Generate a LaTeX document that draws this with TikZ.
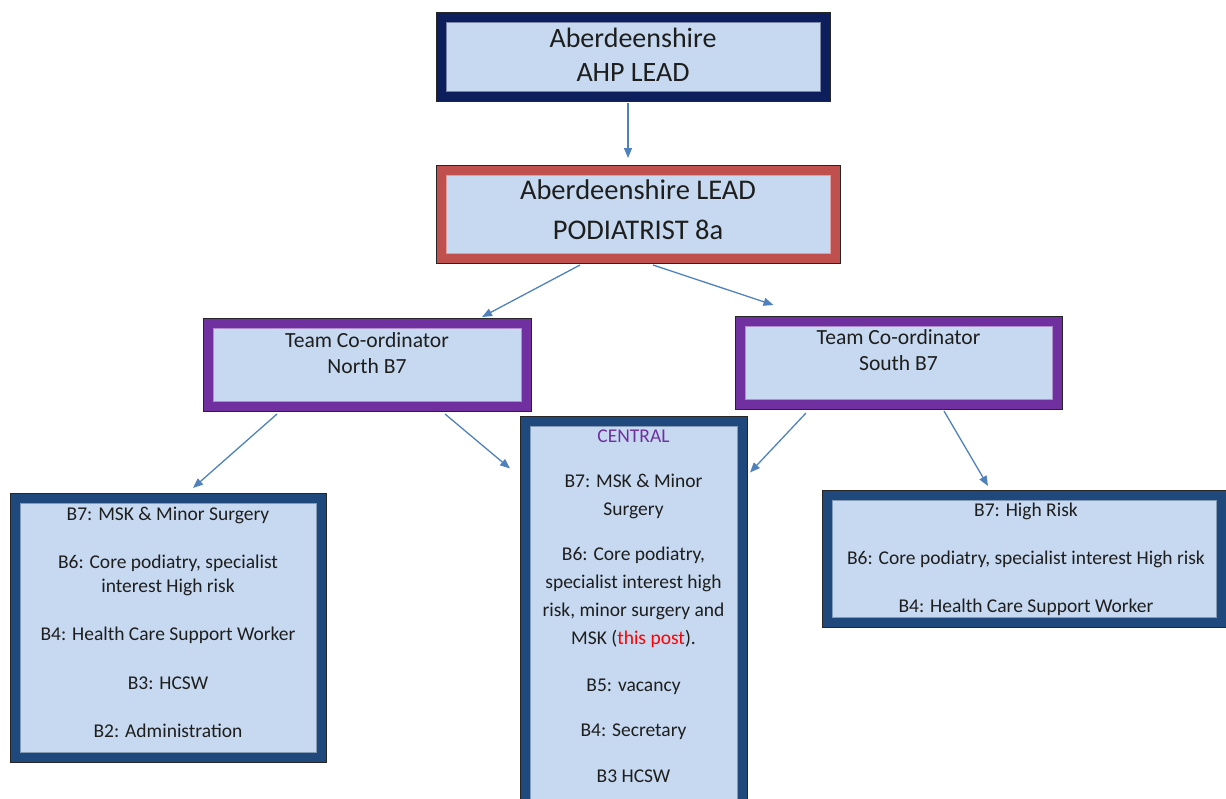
\documentclass[tikz,border=0pt]{standalone}
\usepackage{fontspec}
\setmainfont{Carlito}
\usetikzlibrary{arrows.meta,calc}
\definecolor{navyA}{RGB}{12,30,92}
\definecolor{redB}{RGB}{192,80,77}
\definecolor{purpC}{RGB}{112,48,160}
\definecolor{blueD}{RGB}{31,73,125}
\definecolor{fillE}{RGB}{198,217,240}
\definecolor{arrowF}{RGB}{79,129,189}
\definecolor{txt}{RGB}{30,30,30}
\definecolor{postred}{RGB}{255,0,0}
\tikzset{
  orgbox/.style={rectangle, inner sep=0pt, outer sep=0pt, draw=black!85, line width=0.9pt, fill=#1,
    path picture={\fill[fillE, draw=#1!55!white, line width=0.8pt]
      ([shift={(10pt,-10pt)}]path picture bounding box.north west) rectangle
      ([shift={(-10pt,10pt)}]path picture bounding box.south east);}},
  bigtext/.style={font=\fontsize{28}{34}\selectfont, text=txt, align=center, inner sep=0pt},
  midtext/.style={font=\fontsize{21.6}{26}\selectfont, text=txt, align=center, inner sep=0pt},
  smalltext/.style={font=\fontsize{19.5}{24}\selectfont, text=txt, align=center, inner sep=0pt},
  conn/.style={draw=arrowF, line width=1.3pt, -{Triangle[length=10pt,width=8pt]}}
}
\begin{document}
\begin{tikzpicture}[x=1pt,y=-1pt]
\useasboundingbox (0,0) rectangle (1226,798);

% boxes
\node[orgbox=navyA, minimum width=394pt, minimum height=89pt] (b1) at (633,56.5) {};
\node[orgbox=redB, minimum width=404pt, minimum height=98pt] (b2) at (638,214) {};
\node[orgbox=purpC, minimum width=328pt, minimum height=93pt] (b3) at (367,364.5) {};
\node[orgbox=purpC, minimum width=327pt, minimum height=93pt] (b4) at (898.5,362.5) {};
\node[orgbox=blueD, minimum width=316pt, minimum height=269pt] (b5) at (168,627.5) {};
\node[orgbox=blueD, minimum width=227pt, minimum height=395pt] (b6) at (633.5,613.5) {};
\node[orgbox=blueD, minimum width=404pt, minimum height=137pt] (b7) at (1024,558.5) {};

% texts
\node[bigtext] (t1) at (633,54.5) {Aberdeenshire\\AHP LEAD};
\node[bigtext, font=\fontsize{28.5}{40}\selectfont] (t2) at (638,210) {Aberdeenshire LEAD\\PODIATRIST 8a};
\node[midtext] (t3) at (367,353) {Team Co-ordinator\\North B7};
\node[midtext] (t4) at (898.5,350) {Team Co-ordinator\\South B7};
\node[smalltext] (t5) at (168,622) {B7: MSK \& Minor Surgery\\[24pt]
  B6: Core podiatry, specialist\\interest High risk\\[24pt]
  B4: Health Care Support Worker\\[25pt]
  B3: HCSW\\[24pt]
  B2: Administration};
\node[smalltext, font=\fontsize{19.5}{28}\selectfont] (t6) at (633.5,606) {\textcolor{purpC}{CENTRAL}\\[17pt]
  B7: MSK \& Minor\\Surgery\\[17pt]
  B6: Core podiatry,\\specialist interest high\\risk, minor surgery and\\MSK (\textcolor{postred}{this post}).\\[19pt]
  B5: vacancy\\[17pt]
  B4: Secretary\\[18pt]
  B3 HCSW};
\node[smalltext] (t7) at (1026,559.5) {B7: High Risk\\[24pt]
  B6: Core podiatry, specialist interest High risk\\[24pt]
  B4: Health Care Support Worker};

% free ends
\coordinate (e1) at ($(b2.north)+(-10,-7)$);
\coordinate (e2) at ($(b3.north)+(115,-1)$);
\coordinate (e3) at ($(b4.north)+(-125,-11)$);
\coordinate (e4) at ($(b5.north)+(25,-5)$);
\coordinate (e5) at ($(b6.west)+(-10,-145)$);
\coordinate (e6) at ($(b6.east)+(3,-141)$);
\coordinate (e7) at ($(b7.north)+(-36,-4)$);

% connectors
\draw[conn] ($(b1.south)+(-5,2)$) -- (e1);
\draw[conn] ($(b2.south)+(-58,2)$) -- (e2);
\draw[conn] ($(b2.south)+(15,2)$) -- (e3);
\draw[conn] ($(b3.south)+(-90,3)$) -- (e4);
\draw[conn] ($(b3.south)+(78,3)$) -- (e5);
\draw[conn] ($(b4.south)+(-92.5,4)$) -- (e6);
\draw[conn] ($(b4.south)+(45.5,2)$) -- (e7);
\end{tikzpicture}
\end{document}
